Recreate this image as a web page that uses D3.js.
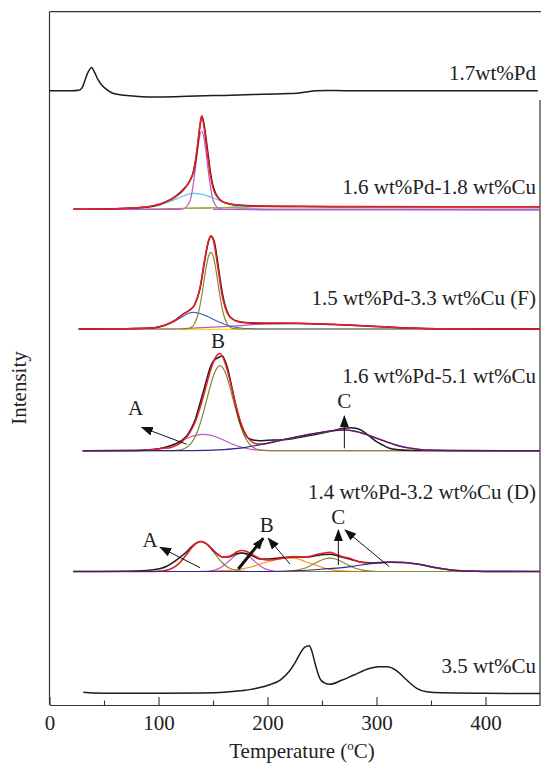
<!DOCTYPE html>
<html lang="en">
<head>
<meta charset="utf-8">
<title>TPR profiles - Pd / Pd-Cu</title>
<script src="https://cdn.jsdelivr.net/npm/d3@7/dist/d3.min.js"></script>
<style>
  body { margin: 0; background: #fff; }
  svg text { font-family: "Liberation Serif", "Times New Roman", serif; fill: #222; }
</style>
</head>
<body>
<script>
// canvas
var w = 541, h = 763;

// axis ticks
var temperatureTicks = [0, 100, 200, 300, 400];
var minorTicks = [50, 150, 250, 350];

// sample names, top to bottom
var sampleLabels = ["1.7wt%Pd", "1.6 wt%Pd-1.8 wt%Cu", "1.5 wt%Pd-3.3 wt%Cu (F)",
                    "1.6 wt%Pd-5.1 wt%Cu", "1.4 wt%Pd-3.2 wt%Cu (D)", "3.5 wt%Cu"];
// vertical offset of each profile (a.u.)
var baselines = [614.3, 495.7, 376, 254.3, 133.5, 11.7];

// ---- 1.7wt%Pd ----
var pd17 = [[0,0],[20,0],[27,0.5],[30,3],[32.6,10.7],[35.6,19],[38.7,23.3],[41.5,18],[44.5,11],[47.9,5.7],
  [52,1.5],[57,-2],[65,-4],[74,-5],[85,-6],[98,-6.3],[115,-6],[135,-5.3],[160,-4.7],[196,-3.6],[215,-3],
  [227,-2.6],[235,-1.3],[245,0],[255,0.3],[270,0],[448,0]];

// ---- 1.6 wt%Pd-1.8 wt%Cu ----
var pdcu18Exp = [[22,0],[60,0.5],[80,1.5],[95,3],[107,7.6],[115,12.5],[120,17],[125,22.5],[129,29],[132,37],
  [134,48],[136,64],[138,83],[139.8,93],[141.5,87],[143.5,72],[145.5,55],[147.5,38],[149.5,26],[152,17],
  [156,10],[161,6.5],[170,4.5],[185,3.5],[230,2.8],[280,2.6],[450,2.5]];
var pdcu18Fit = [[22,0],[60,0.5],[80,1.5],[95,3.5],[107,7.5],[115,12],[120,16],[125,22],[129,29],[132,38],
  [134,50],[136,66],[138,84],[139.6,93.6],[141.2,86],[143,72],[145,55],[147,38],[149,26],[151,18],[155,11],
  [160,7],[168,5],[184,3.3],[230,3],[280,2.7],[450,2.6]];
var pdcu18A = [[22,0],[120,0],[124,1],[127,4.5],[129.6,11],[131.6,23],[133.6,39],[135.6,57],[137.6,72],
  [139.6,78.3],[141.6,72],[143.6,57],[145.6,39],[147.6,23],[149.6,11],[152,4.5],[155,1],[160,0],[450,0]];
var pdcu18B = [[22,0],[70,0.3],[85,1.2],[100,4],[110,7.5],[120,12],[127,15],[132,16],[140,15],[150,11.5],
  [160,7],[170,3.5],[180,1.5],[190,0.5],[210,0],[450,0]];
var pdcu18C = [[22,0],[100,0.3],[150,1.5],[190,2.6],[450,2.6]];
var pdcu18D = [[22,0],[110,0],[125,1],[150,1.8],[175,1],[190,0],[450,0]];
var pdcu18E = [[150,0],[200,-0.5],[450,-0.8]];

// ---- 1.5 wt%Pd-3.3 wt%Cu (F) ----
var pdcu33Exp = [[26.8,0],[70,0.3],[92,0.9],[100,2],[107.5,4.5],[115,8.5],[122.7,15],[128,18.5],[133,24],
  [138,40],[142.7,70],[145.5,86],[148.2,92.5],[151,88],[154,69],[156.5,50],[158.7,35],[161.5,22],[164.5,14],
  [168,10],[172.5,7.5],[184,6],[200,5.5],[229.8,5.5],[260,4.5],[291,3],[321.6,1.3],[337,0.7],[360,0.2],[450,0]];
var pdcu33Fit = [[26.8,0],[70,0.3],[92,0.9],[100,2],[107.5,4.5],[115,8.5],[122.7,15],[128,18.5],[133,24],
  [138,41],[142.7,72],[145.5,87],[147.9,93.3],[150.5,88],[153.4,69],[156,50],[158,35.7],[161,22],[164,14],
  [167,10.5],[171.7,8],[184,6.3],[200,6],[229.8,5.7],[260,4.7],[291,3],[321.6,1.3],[337,0.7],[360,0.2],[450,0]];
var pdcu33A = [[26.8,0],[125,0],[127,0.4],[130,1.6],[133,5.3],[136,13.5],[138,23],[140,35.5],[142,50],[144,63.5],
  [146,73.2],[147.9,76.7],[150,73.2],[152,63.5],[154,50],[156,35.5],[158,23],[160,13.5],[163,5.3],[166,1.6],
  [169,0.4],[175,0],[450,0]];
var pdcu33B = [[26.8,0],[80,0.2],[92,0.8],[100,1.8],[110,5.5],[120,11],[127,15.5],[132,16.7],[138,15.5],
  [145,12.5],[155,7.3],[165,3],[175,1],[185,0.3],[200,0],[450,0]];
var pdcu33C = [[26.8,0],[110,0],[130,0.8],[150,1.8],[172,3.2],[195,5],[220,5.6],[250,5],[280,3.8],[310,2],
  [330,1],[350,0.4],[370,0],[450,0]];
var pdcu33D = [[120,-0.4],[180,-0.4]];

// ---- 1.6 wt%Pd-5.1 wt%Cu ----
var pdcu51Exp = [[30.5,0],[80,0.3],[95,1.2],[105,3],[115,6.5],[121,10],[126,15],[130,22],[134,32],[138,47],
  [141.4,60],[144.4,72],[147,82],[150,89],[153,92],[155.5,93.5],[158.6,94.7],[161,90],[163.5,82],[166,70],
  [169,55],[172,40],[175,28],[178,20],[181,14],[186,11],[193,10],[200,10.5],[214.5,11],[230,13.5],[245,16.5],
  [260,20],[270,22.5],[276,23],[281,22.5],[286,20.5],[293,15],[300,9],[306,5.5],[312,2.4],[320,1],[328,0.4],
  [345,0.1],[450,0]];
var pdcu51Fit = [[30.5,0],[80,0.2],[95,1.1],[105,2.5],[110,2.8],[116.4,5.3],[121.4,8.9],[126.4,14.4],
  [130.4,21.2],[134.4,30.8],[138.4,43.8],[141.4,55.3],[144.4,67.4],[147.4,79.1],[150.4,88.8],[153.4,95.2],
  [156.4,97.3],[159.4,92.5],[162.4,83.1],[165.4,70.8],[168.4,57.1],[171.4,43.9],[174.4,32.1],[178.4,19.9],
  [182.4,12.3],[186.4,8.4],[191.4,6.7],[196.4,6.7],[205,8.5],[214.5,11],[230,14.5],[245,17.5],[260,20],
  [270.4,20.7],[280,19.5],[290,16.5],[300,12.5],[310,8.5],[320,5],[330,2.7],[340,1.2],[350,0.5],[370,0.1],[450,0]];
var pdcu51A = [[30.5,0],[85,0.3],[95,1.1],[105,3.2],[115,7],[125,12],[133,15],[141,16.3],[149,15],[157,12],
  [167,7],[177,3.2],[187,1.1],[197,0.3],[210,0],[450,0]];
var pdcu51B = [[30.5,0],[110,0],[116.4,0.3],[121.4,1.2],[126.4,3.7],[130.4,8.1],[134.4,15.8],[138.4,27.7],
  [141.4,39],[144.4,51.5],[147.4,64],[150.4,75],[153.4,82.4],[156.4,85],[159.4,82.4],[162.4,75],[165.4,64],
  [168.4,51.5],[171.4,39],[174.4,27.7],[178.4,15.8],[182.4,8.1],[186.4,3.7],[191.4,1.2],[196.4,0.3],[205,0],[450,0]];
var pdcu51C = [[30.5,0],[130,0],[160,1],[170,2],[180,3.4],[190,5.3],[200,7.5],[214.5,11],[230,14.5],[245,17.5],
  [260,20],[270.4,20.7],[280,19.5],[290,16.5],[300,12.5],[310,8.5],[320,5],[330,2.7],[340,1.2],[350,0.5],
  [370,0.1],[450,0]];

// ---- 1.4 wt%Pd-3.2 wt%Cu (D) ----
var pdcu32Exp = [[21.8,0],[70,0.2],[85,0.7],[95,1.8],[101,2.7],[108,5.5],[116.7,11.7],[123,17],[127,21],
  [131,25.5],[135,28.7],[139,30],[143,28.3],[147,24.5],[151,20],[155,16.5],[159,14.5],[164,14.5],[168,16],
  [172,18],[176.3,18.5],[180.3,18],[184.3,16.5],[188.3,14.5],[193,12.4],[201,12.5],[214,14],[224,14.5],
  [236,14.5],[245,16],[252,17],[257.3,17.2],[262,16.5],[268,14.5],[276,12.3],[285,9.5],[295,8.7],[312.4,9.3],
  [325,9],[340,7],[352,4.3],[362,2.5],[373.6,1],[385,0.4],[398,0.1],[450,0]];
var pdcu32Fit = [[21.8,0],[94,0],[99,0.2],[104,0.6],[109,1.7],[114,4.1],[119,8.3],[123,13.2],[127,18.9],
  [131,24.5],[135,28.5],[139,30],[143,28.5],[147,24.9],[151,20.5],[155,16.8],[159,14.5],[164,15],[168,16.9],
  [172,19.7],[176.3,21.1],[180.3,20.3],[184.3,18.1],[188.3,15.6],[192.3,13.4],[196.3,12],[201.3,11.4],
  [206,11.8],[214,13.3],[224,15],[236,14.7],[245,17],[252,18.6],[257.3,19.3],[262,17.6],[268,15.1],[276,13],
  [285,9.3],[295,8.3],[312.4,9.3],[325,9],[340,7],[352,4.3],[362,2.5],[373.6,1],[385,0.4],[398,0.1],[450,0]];
var pdcu32A = [[21.8,0],[94,0],[99,0.2],[104,0.6],[109,1.7],[114,4.1],[119,8.3],[123,13.2],[127,18.9],
  [131,24.5],[135,28.5],[139,30],[143,28.5],[147,24.5],[151,18.9],[155,13.2],[159,8.3],[164,4.1],[169,1.7],
  [174,0.6],[179,0.2],[190,0],[450,0]];
var pdcu32B = [[21.8,0],[136,0],[141.3,0.1],[146.3,0.45],[151.3,1.4],[156.3,3.5],[160.3,6.4],[164.3,10.1],
  [168.3,14.1],[172.3,17.1],[176.3,18.3],[180.3,17.1],[184.3,14.1],[188.3,10.1],[192.3,6.4],[196.3,3.5],
  [201.3,1.4],[206.3,0.45],[211.3,0.1],[220,0],[450,0]];
var pdcu32C = [[21.8,0],[145,0],[160,0.8],[175,2.4],[185,4.5],[195,8],[205,11],[214,13],[224,13.4],[236,9.3],
  [245,6],[252,3.5],[260,1.7],[268,0.6],[276,0.2],[290,0],[312,0]];
var pdcu32D = [[21.8,0],[210,0],[217.3,0.2],[222.3,0.6],[227.3,1.3],[232.3,2.7],[237.3,4.8],[242.3,7.5],
  [247.3,10.3],[252.3,12.5],[257.3,13.3],[262.3,12.5],[267.3,10.3],[272.3,7.5],[277.3,4.8],[282.3,2.7],
  [287.3,1.3],[292.3,0.6],[297.3,0.2],[306,0],[450,0]];
var pdcu32E = [[21.8,0],[200,0],[220,0.5],[240,1.5],[255,2.8],[266.5,3.7],[280,5.5],[295,7.8],[312.4,9.3],
  [325,9],[340,7],[352,4.3],[362,2.5],[373.6,1],[385,0.4],[398,0.1],[450,0]];

// ---- 3.5 wt%Cu ----
var cu35 = [[31,1],[40,0.3],[60,0],[100,0],[140,0.3],[160,1],[175,2.5],[190,5],[202,8.5],[212,13.5],[220,22],
  [226,32],[230,40],[234,46],[238.3,47.6],[241,41],[243.6,30],[246,21],[248,15],[252,10.5],[257.3,9],[268,13],
  [278.7,18],[294,25],[302,26.5],[309.4,26.6],[318,23],[324.6,16.6],[331,10],[336.9,5],[346,1.6],[360,0.5],
  [400,0],[450,-0.3]];

// peak annotations: [panel, T, intensity above baseline, text]
var peakLetters = [[3,78.9,42.7,"A"],[3,154.6,109.7,"B"],[3,270.5,50.5,"C"],
                   [4,92.2,31.5,"A"],[4,199.3,46.5,"B"],[4,265,55,"C"]];
// arrows: [panel, T from, I from, T to, I to, width]
var peakArrows = [[3,125.9,6.4,84.6,23.4,1],[3,270.5,2.4,270.5,34.7,1],
                  [4,138.1,3.8,101.4,24.2,1],[4,173.2,2.5,196.1,33.2,3],[4,220.6,7.5,200.7,33.2,1],
                  [4,265,6.5,265,41.5,1],[4,311.7,4.8,271.1,41.5,1]];

var colors = {
  exp: "#1c1c1c", fit: "#ee1c24", magenta: "#c455c4", cyan: "#5cc6e4", olive: "#8a8530",
  blue: "#3c64c6", navy: "#2a2a8e", orange: "#ff8c1c", yellow: "#f2e400", green: "#8dc63f",
  brown: "#a27a48", violet: "#a070c8"
};

// drawing order inside each panel: components first, then data, then fit
var panels = [
  { curves: [[pd17, colors.exp]] },
  { curves: [[pdcu18E, colors.violet], [pdcu18C, colors.brown], [pdcu18D, colors.green], [pdcu18B, colors.cyan],
             [pdcu18A, colors.magenta], [pdcu18Exp, colors.exp], [pdcu18Fit, colors.fit]] },
  { curves: [[pdcu33D, colors.yellow], [pdcu33C, colors.magenta], [pdcu33B, colors.blue], [pdcu33A, colors.olive],
             [pdcu33Exp, colors.exp], [pdcu33Fit, colors.fit]] },
  { curves: [[pdcu51A, colors.magenta], [pdcu51B, colors.olive], [pdcu51Exp, colors.exp], [pdcu51Fit, colors.fit],
             [pdcu51C, colors.navy]] },
  { curves: [[pdcu32C, colors.orange], [pdcu32B, colors.magenta], [pdcu32D, colors.olive], [pdcu32A, colors.olive],
             [pdcu32Exp, colors.exp], [pdcu32Fit, colors.fit], [pdcu32E, colors.navy]] },
  { curves: [[cu35, colors.exp]] }
];
// label height above each baseline (px)
var labelLift = [18, 23, 31, 75, 80, 28];

var x = d3.scaleLinear().domain([0, 450]).range([49.5, 540]);
var y = d3.scaleLinear().domain([0, 693.3]).range([705, 11.7]);

var svg = d3.select("body").append("svg").attr("width", w).attr("height", h);

var defs = svg.append("defs");
defs.append("marker")
  .attr("id", "head")
  .attr("markerUnits", "userSpaceOnUse")
  .attr("viewBox", "0 -5 12 10")
  .attr("refX", 11).attr("refY", 0)
  .attr("markerWidth", 12).attr("markerHeight", 10)
  .attr("orient", "auto")
  .append("path").attr("d", "M0,-4.5L12,0L0,4.5Z").attr("fill", "#111");

// frame
svg.append("line").attr("x1", 49.5).attr("x2", 49.5).attr("y1", 11.7).attr("y2", 705)
  .attr("stroke", "#333").attr("stroke-width", 1.2);
svg.append("line").attr("x1", 49.5).attr("x2", 541).attr("y1", 11.7).attr("y2", 11.7)
  .attr("stroke", "#333").attr("stroke-width", 1.2);
svg.append("line").attr("x1", 540).attr("x2", 540).attr("y1", 100).attr("y2", 705)
  .attr("stroke", "#333").attr("stroke-width", 1.2);

// x axis (ticks pointing inward)
var gx = svg.append("g").attr("transform", "translate(0,705)")
  .call(d3.axisBottom(x).tickValues(temperatureTicks).tickSizeInner(-8).tickSizeOuter(0).tickPadding(10));
gx.select(".domain").attr("stroke", "#333").attr("stroke-width", 1.2);
gx.selectAll(".tick line").attr("stroke", "#333").attr("stroke-width", 1.1);
gx.selectAll(".tick text").attr("font-size", 21).attr("font-family", null);

var gm = svg.append("g").attr("transform", "translate(0,705)")
  .call(d3.axisBottom(x).tickValues(minorTicks).tickSizeInner(-4.5).tickSizeOuter(0).tickFormat(""));
gm.select(".domain").remove();
gm.selectAll(".tick line").attr("stroke", "#333").attr("stroke-width", 1.1);

// axis titles
var xt = svg.append("text").attr("x", 302).attr("y", 758).attr("text-anchor", "middle").attr("font-size", 21);
xt.append("tspan").text("Temperature (");
xt.append("tspan").attr("font-size", 13).attr("dy", -8).text("o");
xt.append("tspan").attr("dy", 8).text("C)");

svg.append("text").attr("transform", "translate(26,388) rotate(-90)")
  .attr("text-anchor", "middle").attr("font-size", 21).text("Intensity");

// profiles
panels.forEach(function(p, i) {
  var base = baselines[i];
  var line = d3.line()
    .x(function(d) { return x(d[0]); })
    .y(function(d) { return y(d[1] + base); })
    .curve(d3.curveMonotoneX);
  var g = svg.append("g");
  p.curves.forEach(function(c) {
    var main = c[1] === colors.exp || c[1] === colors.fit;
    g.append("path").datum(c[0])
      .attr("d", line)
      .attr("fill", "none")
      .attr("stroke", c[1])
      .attr("stroke-width", main ? 1.5 : 1.2)
      .attr("stroke-linejoin", "round");
  });
  svg.append("text")
    .attr("x", 536).attr("y", y(base + labelLift[i]))
    .attr("dy", "0.35em")
    .attr("text-anchor", "end")
    .attr("font-size", 21)
    .text(sampleLabels[i]);
});

// peak letters and arrows
peakArrows.forEach(function(a) {
  var base = baselines[a[0]];
  svg.append("line")
    .attr("x1", x(a[1])).attr("y1", y(base + a[2]))
    .attr("x2", x(a[3])).attr("y2", y(base + a[4]))
    .attr("stroke", "#111").attr("stroke-width", a[5])
    .attr("marker-end", "url(#head)");
});
peakLetters.forEach(function(t) {
  svg.append("text")
    .attr("x", x(t[1])).attr("y", y(baselines[t[0]] + t[2]))
    .attr("dy", "0.35em")
    .attr("text-anchor", "middle")
    .attr("font-size", 21)
    .text(t[3]);
});
</script>
</body>
</html>
